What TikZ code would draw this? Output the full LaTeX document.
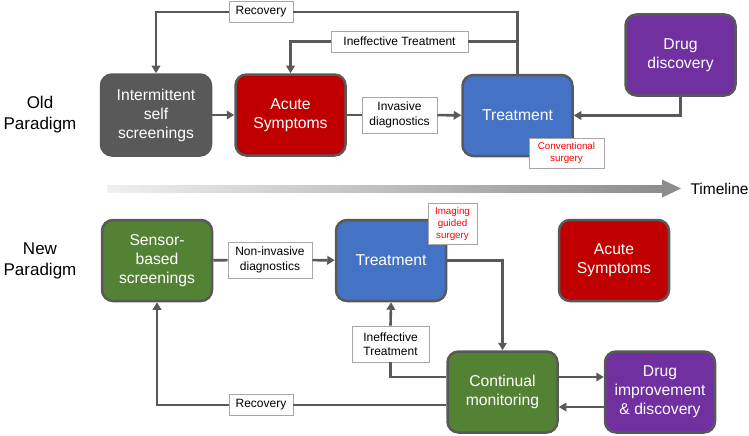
\documentclass[tikz,border=0pt]{standalone}
\usepackage{fontspec}
\setmainfont{Liberation Sans}
\usetikzlibrary{arrows.meta}
\definecolor{linegray}{HTML}{595959}
\definecolor{taggray}{HTML}{A6A6A6}
\definecolor{acutered}{HTML}{C00000}
\definecolor{treatblue}{HTML}{4472C4}
\definecolor{sensegreen}{HTML}{548235}
\definecolor{drugpurple}{HTML}{7030A0}
\definecolor{surgred}{HTML}{FF0000}
\begin{document}
\begin{tikzpicture}[x=1pt,y=-1pt,
  box/.style={draw=linegray, line width=2.5pt, rounded corners=11pt, text=white, align=center,
    font=\fontsize{15.7}{19}\selectfont, minimum width=110pt, minimum height=81pt, inner sep=0pt},
  tagbox/.style={draw=taggray, line width=0.8pt, fill=white, align=center,
    font=\fontsize{12}{14.5}\selectfont, inner sep=0pt},
  surgbox/.style={tagbox, text=surgred, font=\fontsize{9.8}{12}\selectfont},
  conn/.style={draw=linegray, line width=2.6pt},
  arr/.style={conn, -{Triangle[length=7.5pt,width=8.5pt]}}]
\useasboundingbox (0,0) rectangle (749,436);

% old paradigm
\node[align=center, font=\fontsize{17}{21}\selectfont] (old) at (40,115) {Old\\Paradigm};
\node[box, fill=linegray] (screen1) at (156,115) {Intermittent\\self\\screenings};
\node[box, fill=acutered] (acute1) at (290.5,115) {Acute\\Symptoms};
\node[box, fill=treatblue] (treat1) at (517.5,115.5) {Treatment};
\node[box, fill=drugpurple] (drug1) at (680.5,55) {Drug\\discovery};
\node[tagbox, minimum width=75pt, minimum height=36pt] (inv1) at (399.5,115) {Invasive\\diagnostics};
\node[tagbox, minimum width=64pt, minimum height=21pt] (rec1) at (261,12) {Recovery};
\node[tagbox, minimum width=137pt, minimum height=21pt] (ineff1) at (399.5,41.5) {Ineffective Treatment};
\node[surgbox, minimum width=75pt, minimum height=30pt] (conv1) at (566.5,153) {Conventional\\surgery};

\draw[arr] (screen1) -- (acute1);
\draw[conn] (acute1) -- (inv1);
\draw[arr] (inv1) -- (treat1);
\draw[arr] (drug1.south) |- (treat1.east);
\draw[conn] (treat1.north) |- (rec1.east);
\draw[arr] (rec1.west) -| (screen1.north);
\draw[conn] (ineff1.east) -- (ineff1.east -| treat1.north);
\draw[arr] (ineff1.west) -| (acute1.north);

% timeline
\shade[left color=black!6, right color=black!45] (107,185) rectangle (663,192);
\fill[black!45] (662,179.5) -- (681,188.5) -- (662,197.5) -- cycle;
\node[anchor=west, font=\fontsize{15.5}{18}\selectfont] (timeline) at (687,188.5) {Timeline};

% new paradigm
\node[align=center, font=\fontsize{17}{21}\selectfont] (new) at (40,261) {New\\Paradigm};
\node[box, fill=sensegreen] (screen2) at (157,260.5) {Sensor-\\based\\screenings};
\node[box, fill=treatblue] (treat2) at (391,260.5) {Treatment};
\node[box, fill=acutered] (acute2) at (614,260.5) {Acute\\Symptoms};
\node[box, fill=sensegreen] (mon2) at (502.5,392) {Continual\\monitoring};
\node[box, fill=drugpurple] (drug2) at (660,392) {Drug\\improvement\\\& discovery};
\node[tagbox, minimum width=84pt, minimum height=36pt] (noninv2) at (270,260) {Non-invasive\\diagnostics};
\node[tagbox, minimum width=77pt, minimum height=36pt] (ineff2) at (390.5,344) {Ineffective\\Treatment};
\node[tagbox, minimum width=64pt, minimum height=21pt] (rec2) at (261,405) {Recovery};
\node[surgbox, minimum width=49pt, minimum height=41pt] (img2) at (452.5,223.5) {Imaging\\guided\\surgery};

\draw[conn] (screen2) -- (noninv2);
\draw[arr] (noninv2) -- (treat2);
\draw[arr] (treat2.east) -| (mon2.north);
\draw[arr] ([yshift=15pt]mon2.east) -- ([yshift=15pt]drug2.west);
\draw[arr] ([yshift=-15pt]drug2.west) -- ([yshift=-15pt]mon2.east);
\draw[conn] ([yshift=15pt]mon2.west) -| (ineff2.south);
\draw[arr] (ineff2.north) -- (treat2.south);
\draw[conn] ([yshift=-13pt]mon2.west) -- (rec2.east);
\draw[arr] (rec2.west) -| (screen2.south);
\end{tikzpicture}
\end{document}
